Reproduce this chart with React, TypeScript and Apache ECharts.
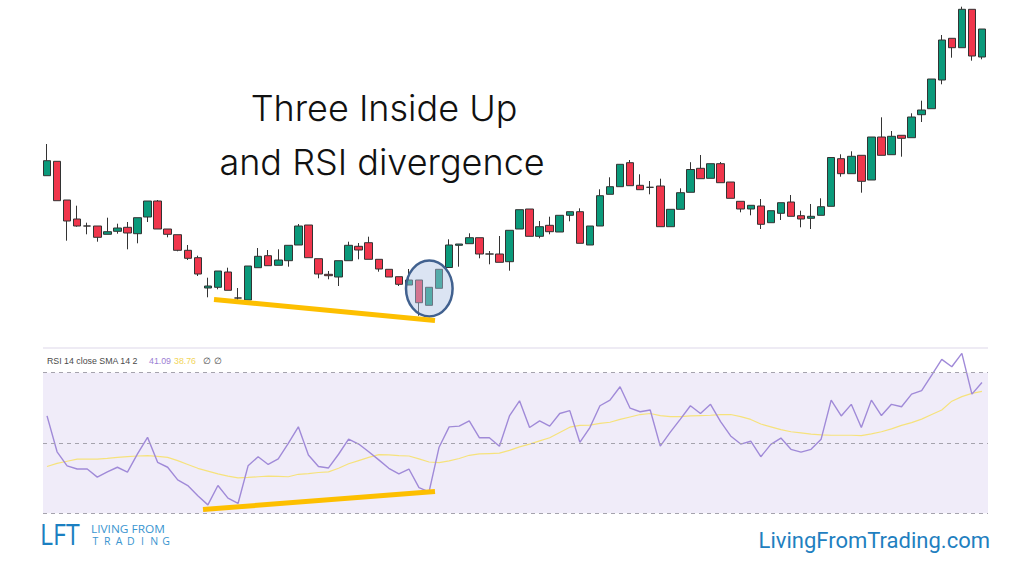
import React, { useEffect, useRef } from "react";
import * as echarts from "echarts";

// ---- Price candles (arbitrary price units) ----
const candleOpen = [
  115.43, 116.87, 113.0, 111.1, 110.4, 110.4, 109.57, 109.87, 110.27, 109.63,
  111.3, 112.9, 110.1, 109.53, 107.97, 107.23, 104.2, 104.27, 105.8, 103.2,
  103.0, 106.23, 107.43, 106.47, 106.93, 108.5, 110.5, 107.13, 105.57, 105.3,
  106.93, 108.37, 108.73, 107.07, 106.07, 105.33, 104.5, 105.0, 102.47, 104.17,
  106.25, 108.47, 108.63, 109.23, 107.6, 107.6, 106.83, 110.1, 112.1, 109.37,
  110.47, 109.8, 111.47, 111.83, 108.5, 110.4, 113.57, 114.33, 116.73, 114.47,
  114.27, 114.4, 110.33, 112.07, 113.77, 116.17, 115.17, 116.63, 114.8, 112.87,
  112.1, 112.4, 110.73, 111.67, 112.8, 111.43, 111.17, 111.47, 112.37, 117.13,
  115.63, 117.47, 115.0, 119.3, 117.53, 119.47, 119.23, 121.53, 122.13, 125.0,
  129.17, 128.23, 132.07, 127.3,
];
const candleClose = [
  116.93, 112.93, 110.9, 110.4, 110.4, 109.27, 109.83, 110.2, 109.7, 111.23,
  112.9, 110.1, 109.57, 107.97, 107.17, 105.6, 104.4, 105.9, 103.97, 103.2,
  106.4, 107.37, 106.43, 107.0, 108.47, 110.4, 107.23, 105.6, 105.43, 106.93,
  108.47, 108.0, 107.07, 106.1, 105.3, 104.57, 105.0, 102.73, 104.27, 106.07,
  108.5, 108.6, 109.23, 107.6, 107.6, 106.77, 109.97, 112.03, 109.37, 110.33,
  109.83, 111.47, 111.83, 108.67, 110.4, 113.43, 114.33, 116.57, 114.43, 114.03,
  114.27, 110.33, 112.07, 113.73, 116.05, 115.13, 116.63, 114.73, 113.17, 112.1,
  112.47, 110.57, 111.93, 112.73, 111.37, 111.1, 111.37, 112.33, 117.25, 115.63,
  117.37, 114.87, 119.3, 117.47, 119.37, 119.17, 121.3, 122.0, 125.1, 129.0,
  128.23, 132.07, 127.4, 130.1,
];
const candleLow = [
  115.43, 112.93, 108.93, 110.33, 109.57, 108.83, 109.57, 109.63, 108.07, 108.67,
  110.8, 110.1, 109.27, 107.87, 107.0, 105.4, 103.27, 104.07, 103.97, 103.0,
  103.0, 106.23, 106.43, 106.47, 106.33, 108.5, 107.23, 105.17, 105.07, 104.4,
  106.93, 107.07, 107.07, 105.83, 105.3, 104.4, 104.5, 101.43, 102.47, 104.17,
  106.25, 106.33, 108.63, 107.17, 106.57, 106.77, 105.93, 110.1, 109.37, 109.17,
  109.57, 109.8, 110.87, 108.67, 108.5, 110.4, 113.57, 114.33, 114.43, 114.03,
  113.57, 110.33, 110.33, 112.07, 113.77, 115.13, 115.17, 114.73, 113.17, 111.77,
  111.47, 110.1, 110.73, 111.0, 111.37, 110.27, 110.1, 111.47, 112.37, 115.33,
  115.63, 113.73, 115.0, 117.47, 117.53, 117.33, 119.23, 120.8, 122.13, 124.57,
  127.23, 128.23, 126.93, 127.07,
];
const candleHigh = [
  118.6, 116.87, 113.0, 112.43, 110.73, 110.4, 111.23, 110.63, 110.8, 111.23,
  112.9, 113.0, 110.1, 109.53, 108.5, 107.43, 105.23, 105.9, 106.23, 104.2,
  106.4, 108.2, 108.0, 108.07, 108.47, 110.6, 110.5, 107.13, 105.9, 106.93,
  108.83, 108.7, 109.33, 107.07, 106.07, 105.33, 106.1, 105.0, 104.27, 106.07,
  109.07, 108.6, 109.67, 109.23, 107.9, 109.4, 109.97, 112.03, 112.1, 110.9,
  111.33, 111.47, 111.83, 112.17, 110.4, 114.07, 115.27, 116.57, 117.0, 115.57,
  114.9, 115.13, 112.07, 114.17, 116.78, 117.5, 116.63, 116.8, 114.8, 112.87,
  112.47, 113.1, 111.93, 112.73, 113.5, 111.93, 112.6, 113.17, 117.25, 117.57,
  117.87, 117.47, 119.3, 121.27, 119.9, 119.47, 121.67, 122.93, 125.1, 129.5,
  129.17, 132.33, 132.07, 130.1,
];

// ---- RSI (14, close) and its SMA (14) ----
const rsiValues = [
  57.7, 47.5, 43.5, 42.6, 42.6, 40.3, 41.8, 43.1, 41.7, 46.9,
  51.6, 44.5, 43.1, 39.5, 37.9, 35.0, 32.4, 37.9, 34.3, 32.8,
  43.5, 46.1, 43.9, 45.5, 49.9, 54.6, 46.6, 43.3, 42.9, 46.8,
  51.1, 49.7, 47.5, 45.2, 42.8, 41.2, 42.6, 37.3, 36.1, 48.8,
  54.6, 54.8, 56.3, 51.5, 51.5, 49.1, 57.7, 62.0, 54.4, 56.3,
  54.8, 58.4, 59.2, 50.2, 54.4, 60.6, 62.2, 66.0, 59.9, 58.9,
  59.4, 49.1, 53.1, 56.8, 60.6, 58.4, 61.0, 56.1, 52.0, 49.7,
  50.5, 46.1, 49.6, 51.4, 48.2, 47.4, 48.2, 51.1, 62.2, 57.7,
  61.0, 54.4, 62.2, 57.8, 61.0, 60.3, 63.9, 64.9, 69.3, 73.8,
  71.7, 75.5, 63.9, 67.2,
];
const rsiSma = [
  43.3, 44.2, 44.8, 45.4, 45.4, 45.4, 45.6, 45.9, 46.1, 46.3,
  46.4, 46.2, 45.9, 45.0, 43.9, 42.8, 42.0, 41.2, 40.6, 40.1,
  40.2, 40.4, 40.6, 40.5, 40.4, 41.1, 41.3, 41.6, 41.8, 42.8,
  44.1, 45.0, 45.9, 46.7, 46.6, 46.4, 46.3, 45.5, 44.6, 44.4,
  44.9, 45.6, 46.5, 46.9, 47.0, 47.1, 47.9, 48.9, 49.7, 50.6,
  51.5, 53.0, 54.5, 55.0, 55.1, 55.6, 55.9, 56.7, 57.4, 58.1,
  58.4, 57.8, 57.5, 57.5, 57.7, 57.8, 57.9, 58.1, 58.1, 57.5,
  56.7, 55.4, 54.6, 53.8, 53.2, 52.9, 52.5, 52.3, 52.2, 52.2,
  52.2, 52.1, 52.6, 53.2, 54.0, 55.0, 55.8, 56.8, 58.1, 59.4,
  61.9, 63.2, 64.1, 64.7,
];
const rsiLevels = [70, 50, 30];

// ---- Texts ----
const titleLines = ["Three Inside Up", "and RSI divergence"];
const rsiLegendName = "RSI 14 close SMA 14 2";
const rsiLegendRsi = "41.09";
const rsiLegendSma = "38.76";
const rsiLegendExtra = ["\u2205", "\u2205"];
const logoBig = "LFT";
const logoLine1 = "LIVING FROM";
const logoLine2 = "TRADING";
const siteUrl = "LivingFromTrading.com";

export default function App() {
  const ref = useRef<HTMLDivElement>(null);

  useEffect(() => {
    if (!ref.current) return;
    const chart = echarts.init(ref.current, null, { renderer: "svg" });
    const categories = candleOpen.map((_, i) => String(i + 1));
    const candles = candleOpen.map((o, i) => [o, candleClose[i], candleLow[i], candleHigh[i]]);

    const legendStyle = (text: string, fill: string) => ({
      text,
      fontFamily: "Liberation Sans",
      fontSize: 8.8,
      fill,
      textVerticalAlign: "middle",
    });

    const graphics: any[] = [
      // divergence circle
      {
        type: "ellipse",
        z: 100,
        shape: { cx: 429.3, cy: 288.5, rx: 23.3, ry: 28 },
        style: { fill: "rgba(176,196,228,0.45)", stroke: "#41618f", lineWidth: 2.5 },
      },
      // price trend line
      {
        type: "line",
        z: 101,
        shape: { x1: 214, y1: 299.5, x2: 435, y2: 320.5 },
        style: { stroke: "#fdbf00", lineWidth: 5, lineCap: "butt" },
      },
      // RSI trend line
      {
        type: "line",
        z: 101,
        shape: { x1: 203, y1: 509.5, x2: 435, y2: 491.5 },
        style: { stroke: "#fdbf00", lineWidth: 5, lineCap: "butt" },
      },
      // separator above RSI pane
      {
        type: "rect",
        z: 1,
        shape: { x: 43, y: 347, width: 945, height: 2 },
        style: { fill: "#eeebf4" },
      },
      // title
      {
        type: "text",
        z: 102,
        x: 384,
        y: 107.5,
        style: {
          text: titleLines[0],
          fontFamily: "Inter",
          fontSize: 36,
          fontWeight: 300,
          fill: "#111111",
          textAlign: "center",
          textVerticalAlign: "middle",
        },
      },
      {
        type: "text",
        z: 102,
        x: 382,
        y: 161.5,
        style: {
          text: titleLines[1],
          fontFamily: "Inter",
          fontSize: 36,
          fontWeight: 300,
          fill: "#111111",
          textAlign: "center",
          textVerticalAlign: "middle",
        },
      },
      // RSI legend
      { type: "text", z: 102, x: 47, y: 361, style: legendStyle(rsiLegendName, "#4a4a4a") },
      { type: "text", z: 102, x: 149, y: 361, style: legendStyle(rsiLegendRsi, "#9b80d4") },
      { type: "text", z: 102, x: 174, y: 361, style: legendStyle(rsiLegendSma, "#f2d55a") },
      { type: "text", z: 102, x: 203, y: 361, style: legendStyle(rsiLegendExtra[0], "#4a4a4a") },
      { type: "text", z: 102, x: 214, y: 361, style: legendStyle(rsiLegendExtra[1], "#4a4a4a") },
      // logo
      {
        type: "text",
        z: 102,
        x: 40,
        y: 534,
        scaleX: 0.86,
        style: { text: logoBig, fontFamily: "Open Sans", fontSize: 29, fontWeight: 400, fill: "#1b7fc1", textVerticalAlign: "middle" },
      },
      {
        type: "text",
        z: 102,
        x: 91,
        y: 528.3,
        scaleX: 1.08,
        style: { text: logoLine1, fontFamily: "Open Sans", fontSize: 11, fill: "#3a95d0", textVerticalAlign: "middle" },
      },
      ...logoLine2.split("").map((ch, k) => ({
        type: "text",
        z: 102,
        x: 95.5 + k * 11.75,
        y: 540.5,
        style: { text: ch, fontFamily: "Open Sans", fontSize: 10.5, fill: "#3a95d0", textAlign: "center", textVerticalAlign: "middle" },
      })),
      {
        type: "text",
        z: 102,
        x: 990,
        y: 540.5,
        style: { text: siteUrl, fontFamily: "Roboto", fontSize: 22, fill: "#1f80c0", textAlign: "right", textVerticalAlign: "middle" },
      },
    ];

    chart.setOption({
      animation: false,
      backgroundColor: "#ffffff",
      grid: [
        { left: 42, right: 37, top: 0, height: 330 },
        { left: 43, right: 36, top: 372.7, height: 140.6, show: true, backgroundColor: "#f0ecf9", borderWidth: 0 },
      ],
      xAxis: [
        { type: "category", gridIndex: 0, data: categories, boundaryGap: true, show: false },
        { type: "value", gridIndex: 1, min: -0.4, max: 93.6, show: false },
      ],
      yAxis: [
        { type: "value", gridIndex: 0, min: 100, max: 133, show: false },
        { type: "value", gridIndex: 1, min: 30, max: 70, show: false },
      ],
      series: [
        {
          type: "candlestick",
          xAxisIndex: 0,
          yAxisIndex: 0,
          data: candles,
          barWidth: 8,
          itemStyle: {
            color: "#0b9a7b",
            color0: "#f0364c",
            borderColor: "#333333",
            borderColor0: "#333333",
            borderColorDoji: "#333333",
            borderWidth: 1,
          },
        },
        {
          type: "line",
          xAxisIndex: 1,
          yAxisIndex: 1,
          data: rsiSma.map((v, i) => [i, v]),
          symbol: "none",
          clip: false,
          z: 3,
          lineStyle: { color: "#f6e27c", width: 1.2 },
          markLine: {
            silent: true,
            symbol: ["none", "none"],
            label: { show: false },
            lineStyle: { color: "#a5a3ad", type: [4, 4], width: 1 },
            data: rsiLevels.map((v) => ({ yAxis: v })),
          },
        },
        {
          type: "line",
          xAxisIndex: 1,
          yAxisIndex: 1,
          data: rsiValues.map((v, i) => [i, v]),
          symbol: "none",
          clip: false,
          z: 4,
          lineStyle: { color: "#a08ad8", width: 1.4 },
        },
      ],
      graphic: graphics,
    });
    return () => chart.dispose();
  }, []);

  return (
    <div
      ref={ref}
      style={{ position: "fixed", left: 0, top: 0, width: 1024, height: 576, background: "#fff" }}
    />
  );
}
